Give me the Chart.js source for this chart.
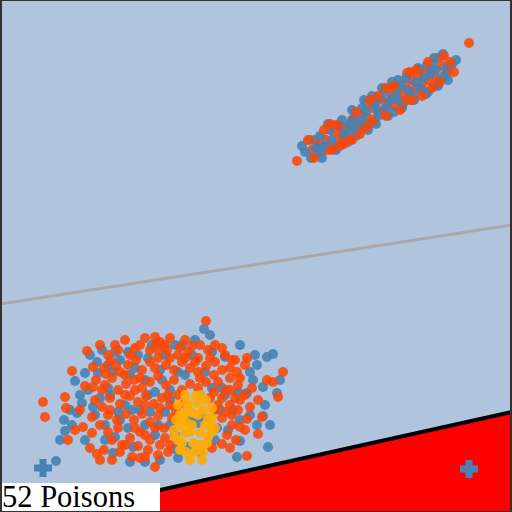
<!DOCTYPE html>
<html><head><meta charset="utf-8">
<script src="https://cdn.jsdelivr.net/npm/chart.js@4/dist/chart.umd.min.js"></script>
<style>
html,body{margin:0;padding:0;background:#fff;}
#wrap{position:relative;width:512px;height:512px;background:#B0C4DE;overflow:hidden;}
#c{position:absolute;left:0;top:0;}
#label{position:absolute;left:0;top:483px;width:160px;height:29px;background:#fff;font-family:"Liberation Serif","DejaVu Serif",serif;font-size:30.5px;line-height:29px;color:#000;padding-left:2px;box-sizing:border-box;white-space:nowrap;overflow:hidden;}
#frame{position:absolute;left:0;top:0;width:512px;height:512px;box-sizing:border-box;border-style:solid;border-color:#333;border-width:1px 2px 1px 2px;pointer-events:none;}
</style></head>
<body><div id="wrap"><canvas id="c" width="512" height="512"></canvas><div id="label">52 Poisons</div><div id="frame"></div></div>
<script>
// Reference lines (x, y in data units)
const trendLine = [[0,104],[256,143.5]];
const boundaryLine = [[0,-6.75],[256,50]];

// Upper cluster
const orangeUpperA = [[148.5,175.5],[234.5,234.5],[156,181],[159,183.5],[161,180],[163,186],[165,183],[167,190],[169,186],[171,189],[173,192],[174,187],[176,196],[177.5,191],[179,194],[181,199],[182,193],[184,197],[186,202],[187,196],[189,200],[191,206],[192,201],[194,204],[196,208],[197.5,203],[199,211],[200,206],[202,209],[203,214],[205,210],[206,216],[208,212],[209,218],[211,214],[213,220],[214,216],[216,221],[218,217],[219,227],[221,223],[223,219],[224,221],[210,221],[203.5,219.5],[195,212],[188,207],[180,191],[172,186],[164,181],[157.5,186],[168,193.5],[183,204],[201,203],[217,213]];
const orangeUpperB = [[154,186],[157,177],[162,191],[166,181],[169,193],[172,184],[175,186],[178,200],[180,189],[183,192],[186,195],[189,208],[193,198],[197,213],[200,201],[203,206],[206,206],[208,221],[211,208],[214,225],[216,212],[220,215],[222,228],[225,225],[227,220],[185,206],[193,212],[205,220],[176,186],[165,194],[170,183]];
const blueUpper = [[155.5,177],[221.5,229],[223.5,222.5],[213.5,223.5],[216.5,224.5],[152.5,180],[158,182],[160,188],[162,183],[166,186],[168,182],[170,193],[172,189],[175,191],[177,197],[179,192],[181,196],[183,200],[185,194],[187,204],[189,198],[190,207],[193,202],[195,206],[197,200],[198,209],[200,213],[202,205],[204,211],[207,208],[208,215],[210,212],[212,217],[214,210],[215,219],[218,221],[220,216],[222,218],[226,224],[192,210],[176,201],[159,179],[173,186],[186,208],[205,206],[212,210],[199,216],[181,202],[165,191],
[151,183],[155,186],[161,177],[164,194],[168,181],[171,196],[174,185],[178,188],[182,206],[184,191],[188,194],[191,212],[194,198],[196,215],[201,202],[203,217],[207,206],[209,222],[213,209],[217,227],[219,213],[224,216],[228,226],[199,206],[188,202],[175,194],[160,182]];

// Lower cluster
const orangeLower = [[43.5,80.5],[55.5,75.5],[46.5,72.5],[36,70.5],[42.5,63],[53,69],[32.5,57.5],[33,52],[21.5,55],[22.5,47.5],[41.5,42.5],[46,39.5],[45,32],[48.5,29],[52,31],[46,47.5],[61,33.5],[66,27.5],[72.5,27.5],[77.5,22.5],[51,52.5],[46.5,62.5],[47.5,56],[55,51],[58.5,46],[103,95.5],[77.5,87.5],[78.5,84.5],[83.5,81],[96,83],[90,82.5],[116,76],[123.5,77],[122.5,73.5],[141.5,70],[133.5,66],[136.5,65],[120,67],[118.5,70],[139,57.5],[120,56],[125,52.5],[115,61],[131,47.5],[123.5,46.5],[120,42.5],[129,39],[113.5,38.5],[111,34],[123.5,28],
[57.5,83.5],[62.5,86],[67.5,82],[72.5,87],[75,81],[80,85],[85,87],[89,78.5],[94,80],[99,77],[104,81],[107.5,75],[112.5,78.5],[52.5,63.5],[56,67],[60,70],[64,73.5],[68,76],[71,71],[75,75],[79,77],[83,73.5],[87,71],[91,75],[95,72],[99,70],[103,73],[107,68.5],[111,71],[115,67],[59,61],[63,64],[67,66],[71,62],[75,65],[79,68],[83,63.5],[87,66],[91,61],[95,64],[99,62],[103,65],[107,60],[111,57],[115,53.5],[55,57],[60,54],[65,58],[69,55],[73,58],[77,54],[81,57],[85,53.5],[89,58.5],[107.5,51],[111,47],[116,48.5],[54,48.5],[59,42],[63,49],[67,46],[71,49],[75,45],[79,48],[82,42],[86,47],[70,40],[65,37],[75,36],[80,33.5],[84,30],[74,31],[56,36],[60,30],[69,33],[116,43.5],[118,36],
[50,83.5],[54,78.5],[59,81],[65,78.5],[70,83.5],[79,81],[82.5,83.5],[92.5,86],[100,83.5],[107.5,83.5],[111,82],[115,72],[119,63.5],[122.5,58.5],[117.5,57],[62.5,58.5],[67.5,61],[72.5,53.5],[80,52],[84,58.5],[88,51],[92,54],[50,43.5],[54,40],[62.5,33.5],[67.5,42],[72.5,38.5],[77.5,42],[82.5,37],[85,33.5],[79,28.5],[70,27],[56,26],[51,61],[48,66],[52,72],[58,73],[62.5,68.5],[70,67],[77.5,72],[85,77],[92.5,77],[97.5,75],[105,77],[109,65],[113,61],[100,67],[105,57],[109,53.5],[113,50],[119,51],[122.5,41],[115,32],[106,32],[126,62],[129,56],[117.5,76],[40,51],[37.5,41],[34,36],[50,26]];
const blueLower = [[57.5,80],[64,80],[48.5,75],[42.5,69.5],[37.5,65.5],[49,69.5],[44,61],[41,54.5],[38.5,49.5],[32,46],[32.5,40.5],[46.5,52.5],[56.5,29.5],[66.5,32.5],[57.5,37.5],[28,25.5],[52.5,43.5],[55,58.5],[102,91.5],[91,83.5],[106,80],[112.5,77.5],[128.5,73.5],[133.5,77.5],[136.5,79],[126.5,66],[131.5,62.5],[123.5,59.5],[138.5,59.5],[116.5,51],[131.5,48],[128.5,43.5],[120,35.5],[134,32.5],[118.5,27.5],[107.5,36],[108.5,42],[100,30],[93.5,32.5],[87.5,31.5],[89,27],[95,46],[99,44.5],[101.5,47.5],[110,51],
[60,76],[69,78.5],[76,83.5],[82.5,78.5],[87.5,83.5],[97.5,86],[65,68.5],[72.5,66],[80,71],[85,61],[92.5,68.5],[100,58.5],[62.5,53.5],[70,51],[77.5,60],[82.5,50],[64,42],[72.5,43.5],[77.5,38.5],[87.5,38.5],[52.5,36],[72.5,25],[105,88.5],[120,83.5],[51,81],[54,73.5],[40,58.5],[36,43.5],[30,36],[111,62],[119,60],[125,70],
[56,70],[67.5,72],[74,77],[81,66],[89,70],[96,78.5],[102.5,70],[106,62],[74,58.5],[66,51],[59,50],[75,50],[79,43.5],[60,46],[47.5,48.5],[50,57],[54,62],[85,43.5],[120,46],[125,48.5],[114,41],[135,43.5],[140,66],[127.5,78.5],[80,26],[65,25],[85,56],[112.5,58.5],[42.5,36],[35,51],[45,78.5],[132.5,53.5]];
const yellowCluster = [[103.5,34.5],[101,26],[96.5,34.5],[91,34.5],[95,40],[100,39.5],[90,43.5],[93.5,44.5],[96.5,49.5],[101.5,51],[98.5,54.5],[94,52],[90,48.5],[104,47],[105,43.5],[93.5,55],[87.5,37.5],[97.5,30],[106,40],[92.5,58.5],[100,58.5],
[89,53.5],[88,46],[87,41],[92,48.5],[92.5,39.5],[96,43.5],[99,48.5],[102.5,43.5],[106,47],[107.5,42],[104,37.5],[100,33.5],[93,30],[95,26],[90,31],[98,58],[103,56],[106,52],[89,36],[101.5,30]];
const plusMarkers = [[21.5,22],[234.5,21.5]];

const pts = a => a.map(([x,y]) => ({x, y}));
const ORANGE = 'rgba(255,69,0,0.85)';
const BLUE = 'rgba(70,130,180,0.9)';

new Chart(document.getElementById('c'), {
  type: 'scatter',
  data: {
    datasets: [
      {type:'line', label:'Boundary', data: pts(boundaryLine), borderColor:'#000000', borderWidth:4, backgroundColor:'#FF0000', fill:'start', pointRadius:0, order:9},
      {type:'line', label:'Trend', data: pts(trendLine), borderColor:'#A9A9A9', borderWidth:3, fill:false, pointRadius:0, order:8},
      {label:'Orange', data: pts(orangeUpperA), backgroundColor:ORANGE, borderWidth:0, pointRadius:5, order:7},
      {label:'Blue', data: pts(blueUpper.concat(blueLower)), backgroundColor:BLUE, borderWidth:0, pointRadius:5, order:6},
      {label:'Orange ', data: pts(orangeUpperB.concat(orangeLower)), backgroundColor:ORANGE, borderWidth:0, pointRadius:5, order:5},
      {label:'Yellow', data: pts(yellowCluster), backgroundColor:'rgba(255,172,0,0.9)', borderWidth:0, pointRadius:5, order:3},
      {label:'Markers', data: pts(plusMarkers), pointStyle:'cross', pointRadius:9, borderWidth:7, borderColor:'#4682B4', backgroundColor:'#4682B4', order:0}
    ]
  },
  options: {
    responsive:false, animation:false, devicePixelRatio:1,
    layout:{padding:0, autoPadding:false},
    scales:{
      x:{type:'linear', min:0, max:256, display:false},
      y:{type:'linear', min:0, max:256, display:false}
    },
    plugins:{legend:{display:false}, tooltip:{enabled:false}}
  }
});
</script>
</body></html>
